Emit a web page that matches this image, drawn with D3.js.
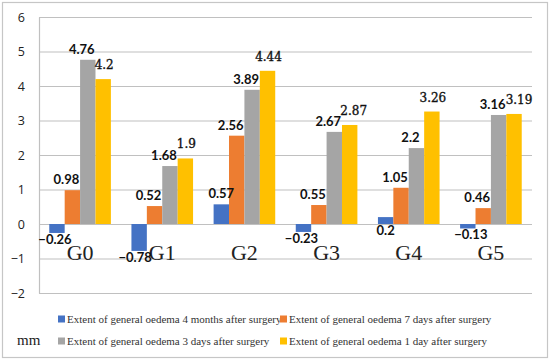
<!DOCTYPE html>
<html>
<head>
<meta charset="utf-8">
<script src="https://cdn.jsdelivr.net/npm/d3@7"></script>
<style>
  body { margin: 0; background: #fff; }
</style>
</head>
<body>
<div id="chart"></div>
<script>
// data
const groups = ["G0", "G1", "G2", "G3", "G4", "G5"];
const seriesNames = [
  "Extent of general oedema 4 months after surgery",
  "Extent of general oedema 7 days after surgery",
  "Extent of general oedema 3 days after surgery",
  "Extent of general oedema 1 day after surgery"
];
const months4 = [-0.26, -0.78, 0.57, -0.23, 0.2, -0.13];
const days7 = [0.98, 0.52, 2.56, 0.55, 1.05, 0.46];
const days3 = [4.76, 1.68, 3.89, 2.67, 2.2, 3.16];
const day1 = [4.2, 1.9, 4.44, 2.87, 3.26, 3.19];
const yTicks = [-2, -1, 0, 1, 2, 3, 4, 5, 6];
const unitLabel = "mm";

const colors = ["#4472C4", "#ED7D31", "#A5A5A5", "#FFC000"];
const series = [months4, days7, days3, day1];
// label nudges per series (labels sit a bit left of orange/grey bars)
const labelDx = [0, -6, -6, 1];
// a few extra nudges, keyed "group-series"
const extraDx = { "G0-0": -2, "G1-0": -4, "G3-0": -2, "G3-3": 3, "G5-3": 4, "G5-0": 3 };

const W = 550, H = 361;
const margin = { top: 17, right: 18, bottom: 68, left: 39 };
const width = W - margin.left - margin.right;
const height = H - margin.top - margin.bottom;

const svg = d3.select("#chart").append("svg")
  .attr("width", W).attr("height", H);

// outer frame
svg.append("rect")
  .attr("x", 2.5).attr("y", 2.5)
  .attr("width", W - 5).attr("height", 355)
  .attr("fill", "#fff").attr("stroke", "#c6c6c6").attr("stroke-width", 1.2);

const g = svg.append("g")
  .attr("transform", `translate(${margin.left},${margin.top})`);

const x0 = d3.scaleBand().domain(groups).range([0, width]).paddingInner(0.25).paddingOuter(0.125);
const x1 = d3.scaleBand().domain(d3.range(series.length)).range([0, x0.bandwidth()]);
const y = d3.scaleLinear().domain([-2, 6]).range([height, 0]);

const fmt = (v) => String(v).replace("-", "\u2212");

// gridlines
g.append("g")
  .selectAll("line")
  .data(yTicks)
  .join("line")
  .attr("x1", 0).attr("x2", width)
  .attr("y1", (d) => y(d) + 0.5).attr("y2", (d) => y(d) + 0.5)
  .attr("stroke", "#c0c0c0").attr("stroke-width", 1.2);

// y axis
const yAxis = g.append("g")
  .call(d3.axisLeft(y).tickValues(yTicks).tickSize(0).tickPadding(14).tickFormat(fmt));
yAxis.select(".domain").attr("stroke", "#c0c0c0").attr("stroke-width", 1.2);
yAxis.selectAll("text")
  .attr("font-family", "'Open Sans', sans-serif")
  .attr("font-size", "12.5px")
  .attr("fill", "#222");

// bars
const grp = g.append("g")
  .selectAll("g")
  .data(groups)
  .join("g")
  .attr("transform", (d) => `translate(${x0(d)},0)`);

grp.selectAll("rect")
  .data((d, i) => series.map((s, k) => ({ k, v: s[i] })))
  .join("rect")
  .attr("x", (d) => x1(d.k))
  .attr("width", x1.bandwidth())
  .attr("y", (d) => y(Math.max(0, d.v)))
  .attr("height", (d) => Math.abs(y(d.v) - y(0)))
  .attr("fill", (d) => colors[d.k]);

// category labels
grp.append("text")
  .text((d) => d)
  .attr("x", x0.bandwidth() / 2)
  .attr("y", y(0) + 36)
  .attr("text-anchor", "middle")
  .attr("font-family", "'Liberation Serif', serif")
  .attr("font-size", "22px")
  .attr("fill", "#222");

// data labels
grp.selectAll("text.val")
  .data((d, i) => series.map((s, k) => ({ k, v: s[i], key: d + "-" + k })))
  .join("text")
  .attr("class", "val")
  .text((d) => fmt(d.v))
  .attr("x", (d) => x1(d.k) + x1.bandwidth() / 2 + labelDx[d.k] + (extraDx[d.key] || 0))
  .attr("y", (d) => d.v < 0.25 ? y(Math.min(0, d.v)) + 11 : y(d.v) - (d.k === 3 ? 10 : 6))
  .attr("text-anchor", "middle")
  .attr("font-family", (d) => d.k === 3 ? "'DejaVu Serif', serif" : "Lato, sans-serif")
  .attr("font-weight", (d) => d.k === 3 ? "normal" : "bold")
  .attr("font-size", (d) => d.k === 3 ? "12px" : "13px")
  .attr("stroke", (d) => d.k === 3 ? "#111" : "none")
  .attr("stroke-width", 0.35)
  .attr("fill", "#111");

// legend
const legPos = [[58, 319], [280, 319], [58, 341], [280, 341]];
const leg = svg.append("g")
  .selectAll("g")
  .data(seriesNames)
  .join("g")
  .attr("transform", (d, i) => `translate(${legPos[i][0]},${legPos[i][1]})`);
leg.append("rect")
  .attr("x", 0).attr("y", -3.5).attr("width", 7).attr("height", 7)
  .attr("fill", (d, i) => colors[i]);
leg.append("text")
  .text((d) => d)
  .attr("x", 9).attr("y", 4)
  .attr("font-family", "'Liberation Serif', serif")
  .attr("font-size", "11px")
  .attr("fill", "#333");

svg.append("text")
  .text(unitLabel)
  .attr("x", 17).attr("y", 345)
  .attr("font-family", "'Liberation Serif', serif")
  .attr("font-size", "15px")
  .attr("fill", "#222");
</script>
</body>
</html>
